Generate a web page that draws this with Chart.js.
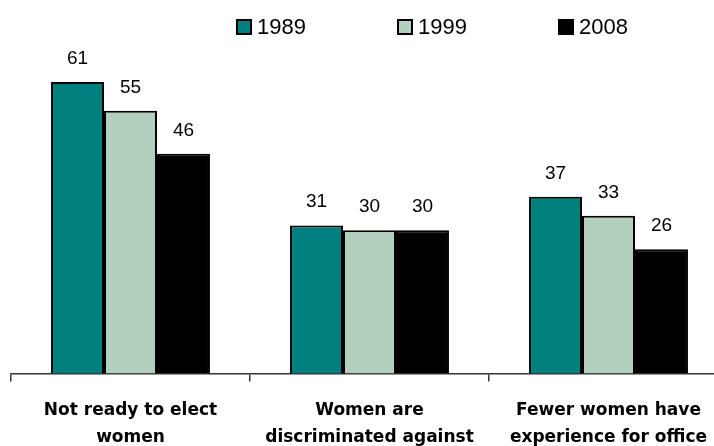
<!DOCTYPE html>
<html>
<head>
<meta charset="utf-8">
<script src="https://cdn.jsdelivr.net/npm/chart.js@4"></script>
<style>
  html, body { margin: 0; padding: 0; background: #fff; overflow: hidden; }
  #frame { position: relative; width: 714px; height: 446px; overflow: hidden; }
  #chart-box { position: absolute; left: 0; top: 0; width: 740px; height: 476px; }
  #legend { position: absolute; top: 14px; left: 236px; display: flex; font-family: "Liberation Sans", Arial, sans-serif; font-size: 22px; line-height: 26px; color: #000; }
  .legend-item { display: flex; align-items: center; width: 161px; }
  .legend-swatch { width: 12px; height: 12px; border: 2px solid #000; margin-right: 5px; }
</style>
</head>
<body>
<div id="frame">
  <div id="chart-box"><canvas id="chart"></canvas></div>
  <div id="legend"></div>
</div>
<script>
const categories = [
  ['Not ready to elect', 'women'],
  ['Women are', 'discriminated against'],
  ['Fewer women have', 'experience for office']
];
const years = ['1989', '1999', '2008'];
const values1989 = [61, 31, 37];
const values1999 = [55, 30, 33];
const values2008 = [46, 30, 26];
const yearColors = ['#007F7F', '#B3D0BF', '#000000'];

const seriesValues = [values1989, values1999, values2008];

// legend row above the plot
const legendEl = document.getElementById('legend');
years.forEach((year, i) => {
  const item = document.createElement('div');
  item.className = 'legend-item';
  const swatch = document.createElement('span');
  swatch.className = 'legend-swatch';
  swatch.style.background = yearColors[i];
  const text = document.createElement('span');
  text.textContent = year;
  item.appendChild(swatch);
  item.appendChild(text);
  legendEl.appendChild(item);
});

// value printed over every bar
const barValues = {
  id: 'barValues',
  afterDatasetsDraw(chart) {
    const ctx = chart.ctx;
    ctx.save();
    ctx.font = '19px "Liberation Sans", Arial, sans-serif';
    ctx.fillStyle = '#000';
    ctx.textAlign = 'center';
    ctx.textBaseline = 'alphabetic';
    chart.data.datasets.forEach((ds, i) => {
      chart.getDatasetMeta(i).data.forEach((bar, j) => {
        ctx.fillText(String(ds.data[j]), bar.x, bar.y - 18);
      });
    });
    ctx.restore();
  }
};

const ctx = document.getElementById('chart').getContext('2d');
new Chart(ctx, {
  type: 'bar',
  data: {
    labels: categories,
    datasets: years.map((year, i) => ({
      label: year,
      data: seriesValues[i],
      backgroundColor: yearColors[i],
      borderColor: '#000',
      borderWidth: 2,
      categoryPercentage: 0.665,
      barPercentage: 1
    }))
  },
  options: {
    responsive: true,
    maintainAspectRatio: false,
    animation: false,
    layout: { padding: { left: 11, right: 12, top: 39, bottom: 10 } },
    plugins: {
      legend: { display: false },
      tooltip: { enabled: false }
    },
    scales: {
      x: {
        grid: { display: true, drawOnChartArea: false, drawTicks: true, tickLength: 8, color: '#333', lineWidth: 1.5 },
        border: { display: true, color: '#333', width: 1.5 },
        ticks: {
          color: '#000',
          padding: 15,
          maxRotation: 0,
          autoSkip: false,
          font: { family: '"DejaVu Sans", sans-serif', size: 17, weight: 'bold', lineHeight: 1.6 }
        }
      },
      y: {
        display: false,
        min: 0,
        max: 70
      }
    }
  },
  plugins: [barValues]
});
</script>
</body>
</html>
